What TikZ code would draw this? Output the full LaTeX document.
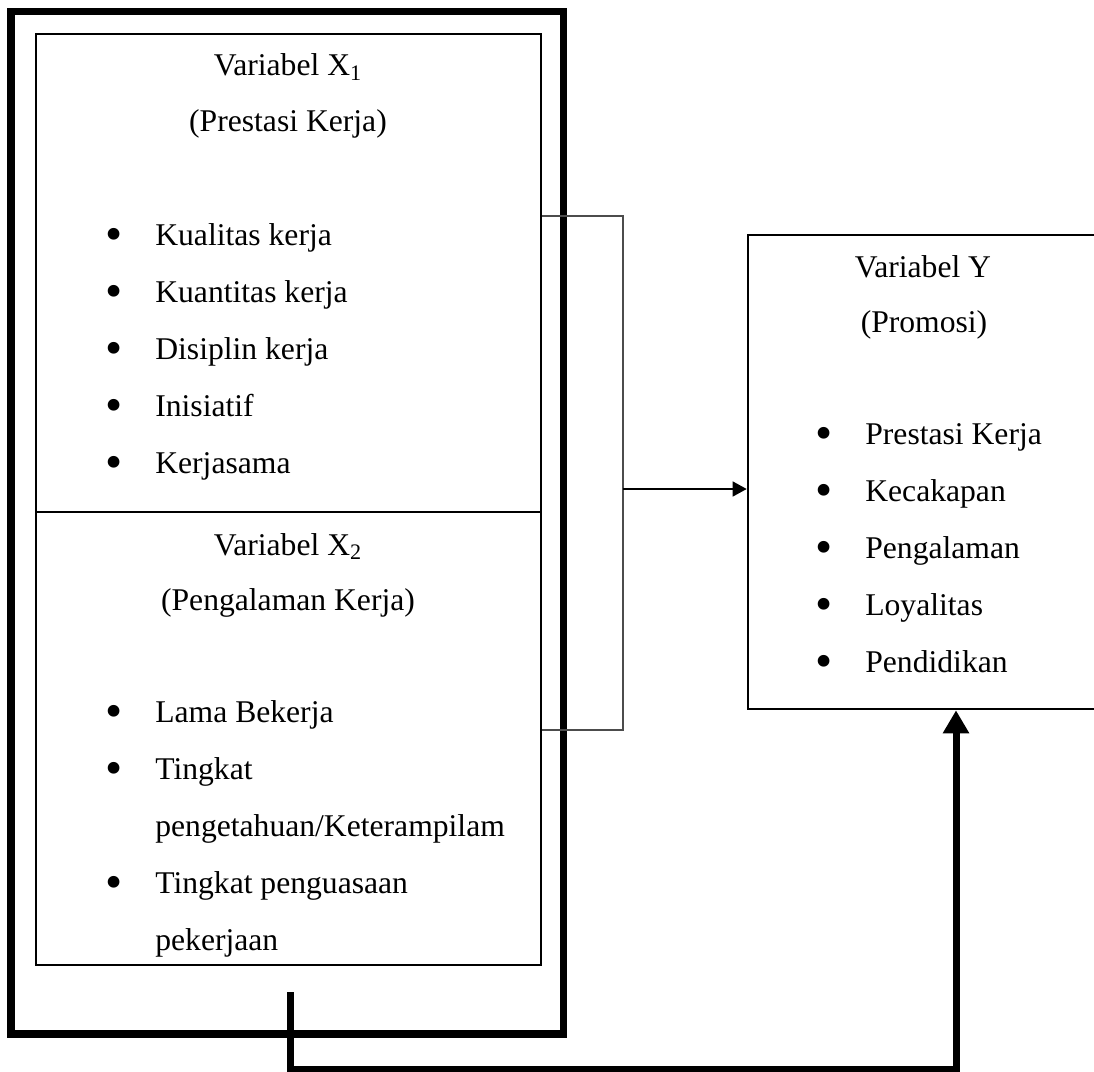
\documentclass[tikz,border=0pt]{standalone}
\usepackage{graphicx}
\usepackage{fontspec}
\setmainfont{Liberation Serif}
\usetikzlibrary{arrows.meta,positioning,fit}

\newcommand{\bul}{\makebox[1cm][l]{\raisebox{-0.1cm}{\scalebox{1.55}{\textbullet}}}}

\begin{document}
\begin{tikzpicture}[x=0.02cm,y=-0.02cm,
    every node/.style={font=\fontsize{18}{22}\selectfont},
    box/.style={draw,line width=1.5pt,inner sep=0pt},
    frame/.style={draw,line width=4.5pt,inner sep=0pt},
    link/.style={draw=black!70,line width=0.8pt},
    heavy/.style={line width=4pt},
    title/.style={anchor=base,inner sep=0pt},
    item/.style={anchor=base west,inner sep=0pt}]

    \useasboundingbox (0,0) rectangle (1094,1071);

    % boxes
    \node[frame, fit={(11,11.5) (563.5,1034)}] (outer) {};
    \node[box, fit={(36,34) (541,512)}] (boxa) {};
    \node[box, fit={(36,512) (541,965)}] (boxb) {};
    \node[box, fit={(748,235) (1110,709)}] (boxy) {};

    % variabel X1
    \node[title] (tx1) at (288,76) {Variabel X\textsubscript{1}};
    \node[title] (px1) at (288,132) {(Prestasi Kerja)};
    \foreach \t [count=\i] in {Kualitas kerja,Kuantitas kerja,Disiplin kerja,Inisiatif,Kerjasama}
        \node[item] (xa\i) at (105,{245+57*(\i-1)}) {\bul\t};

    % variabel X2
    \node[title] (tx2) at (288,555) {Variabel X\textsubscript{2}};
    \node[title] (px2) at (288,610) {(Pengalaman Kerja)};
    \node[item] (xb1) at (105,722) {\bul Lama Bekerja};
    \node[item] (xb2) at (105,779) {\bul Tingkat};
    \node[item] (xb3) at (155,836) {pengetahuan/Keterampilam};
    \node[item] (xb4) at (105,893) {\bul Tingkat penguasaan};
    \node[item] (xb5) at (155,950) {pekerjaan};

    % variabel Y
    \node[title] (ty) at (923,277) {Variabel Y};
    \node[title] (py) at (924,332) {(Promosi)};
    \foreach \t [count=\i] in {Prestasi Kerja,Kecakapan,Pengalaman,Loyalitas,Pendidikan}
        \node[item] (yy\i) at (815,{444+57*(\i-1)}) {\bul\t};

    % connectors
    \coordinate (brtop) at (623,216);
    \coordinate (brbot) at (623,730);
    \coordinate (brmid) at (623,489);
    \draw[link] (boxa.east |- brtop) -- (brtop) -- (brbot) -- (boxb.east |- brbot);
    \draw[line width=0.8pt,-{Triangle[length=0.28cm,width=0.3cm]}] (brmid) -- (boxy.west |- brmid);

    \coordinate (tail) at (290.5,992);
    \coordinate (turn) at (956,1069.5);
    \draw[heavy,-{Triangle[length=0.46cm,width=0.5cm]}] (tail) |- (turn) -- (turn |- boxy.south);

\end{tikzpicture}
\end{document}
